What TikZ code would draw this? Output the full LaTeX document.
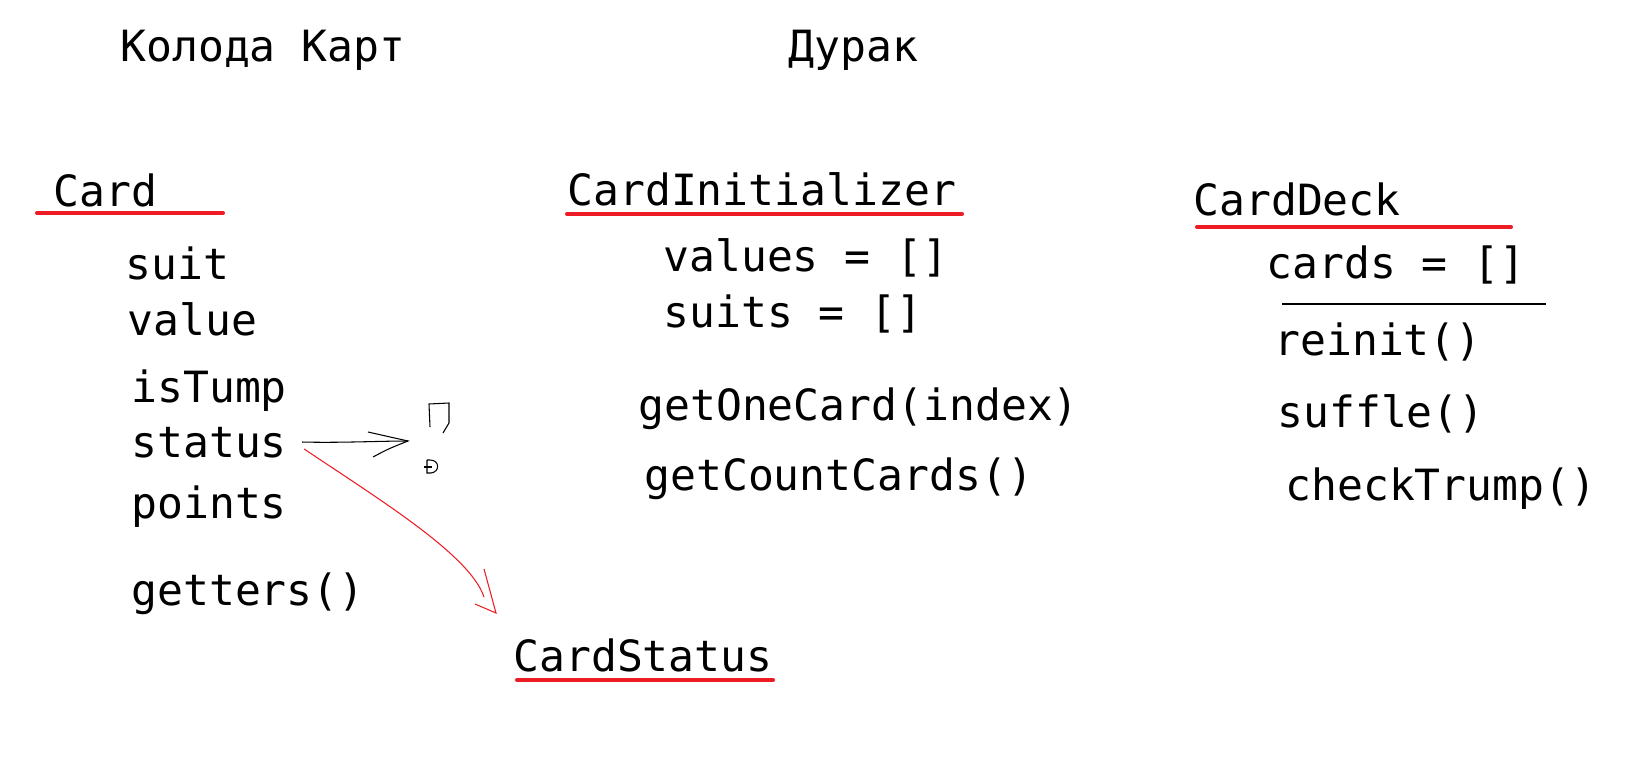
\documentclass[tikz,border=0pt]{standalone}
\usepackage{fontspec}
\setmainfont{DejaVu Sans Mono}
\usetikzlibrary{calc}
\definecolor{rougepaint}{RGB}{237,28,36}
\tikzset{
  txt/.style={anchor=base west, inner sep=0pt, font=\fontsize{24.5}{29}\selectfont},
  souligne/.style={draw=rougepaint, line width=2.3pt, line cap=round},
  fin/.style={draw=black, line width=0.6pt},
  finrouge/.style={draw=rougepaint, line width=0.6pt}
}
\begin{document}
\begin{tikzpicture}[x=0.02cm, y=-0.02cm]
\useasboundingbox (0,0) rectangle (1629,758);

% Titres
\node[txt] (koloda) at (120,61) {Колода Карт};
\node[txt] (durak) at (788,61) {Дурак};

% Card
\node[txt] (card) at (53,206) {Card};
\draw[souligne] (37,213) -- (223,213);
\node[txt] (suit) at (125,279) {suit};
\node[txt] (value) at (127,335) {value};
\node[txt] (istump) at (131,402) {isTump};
\node[txt] (status) at (131,457) {status};
\node[txt] (points) at (131,518) {points};
\node[txt] (getters) at (131,605) {getters()};

% CardStatus
\node[txt] (cardstatus) at (513,671) {CardStatus};
\draw[souligne] (517,680) -- (773,680);

% CardInitializer
\node[txt] (cardinit) at (567,205) {CardInitializer};
\draw[souligne] (567,214) -- (962,214);
\node[txt] (values) at (663,271) {values = []};
\node[txt] (suits) at (663,327) {suits = []};
\node[txt] (getone) at (638,420) {getOneCard(index)};
\node[txt] (getcount) at (644,490) {getCountCards()};

% CardDeck
\node[txt] (carddeck) at (1193,215) {CardDeck};
\draw[souligne] (1197,227) -- (1511,227);
\node[txt] (cards) at (1266,278) {cards = []};
\draw[fin] (1282,304) -- (1546,304);
\node[txt] (reinit) at (1274,355) {reinit()};
\node[txt] (suffle) at (1277,427) {suffle()};
\node[txt] (checktrump) at (1285,500) {checkTrump()};

% Fleche noire
\coordinate (pointe) at (408,441);
\draw[fin] ($(status.base east)+(15,-15)$) .. controls (340,443) and (380,441) .. (pointe);
\draw[fin] (368,432) .. controls (388,436) .. (pointe) .. controls (388,449) .. (373,457);
\draw[fin] (430,427) -- (429,404) -- (449,403) -- (449,423) -- (443,433);
\draw[fin] (427,460) -- (427,473) -- (431,473) .. controls (440,472) and (440,460) .. (430,460) -- (427,460);
\draw[fin] (424,467) -- (432,467);

% Fleche rouge
\coordinate (bout) at (496,613);
\draw[finrouge] ($(status.base east)+(17,-8)$) .. controls (380,500) and (470,555) .. (484,597);
\draw[finrouge] (484,569) -- (bout) -- (475,604);
\end{tikzpicture}
\end{document}
